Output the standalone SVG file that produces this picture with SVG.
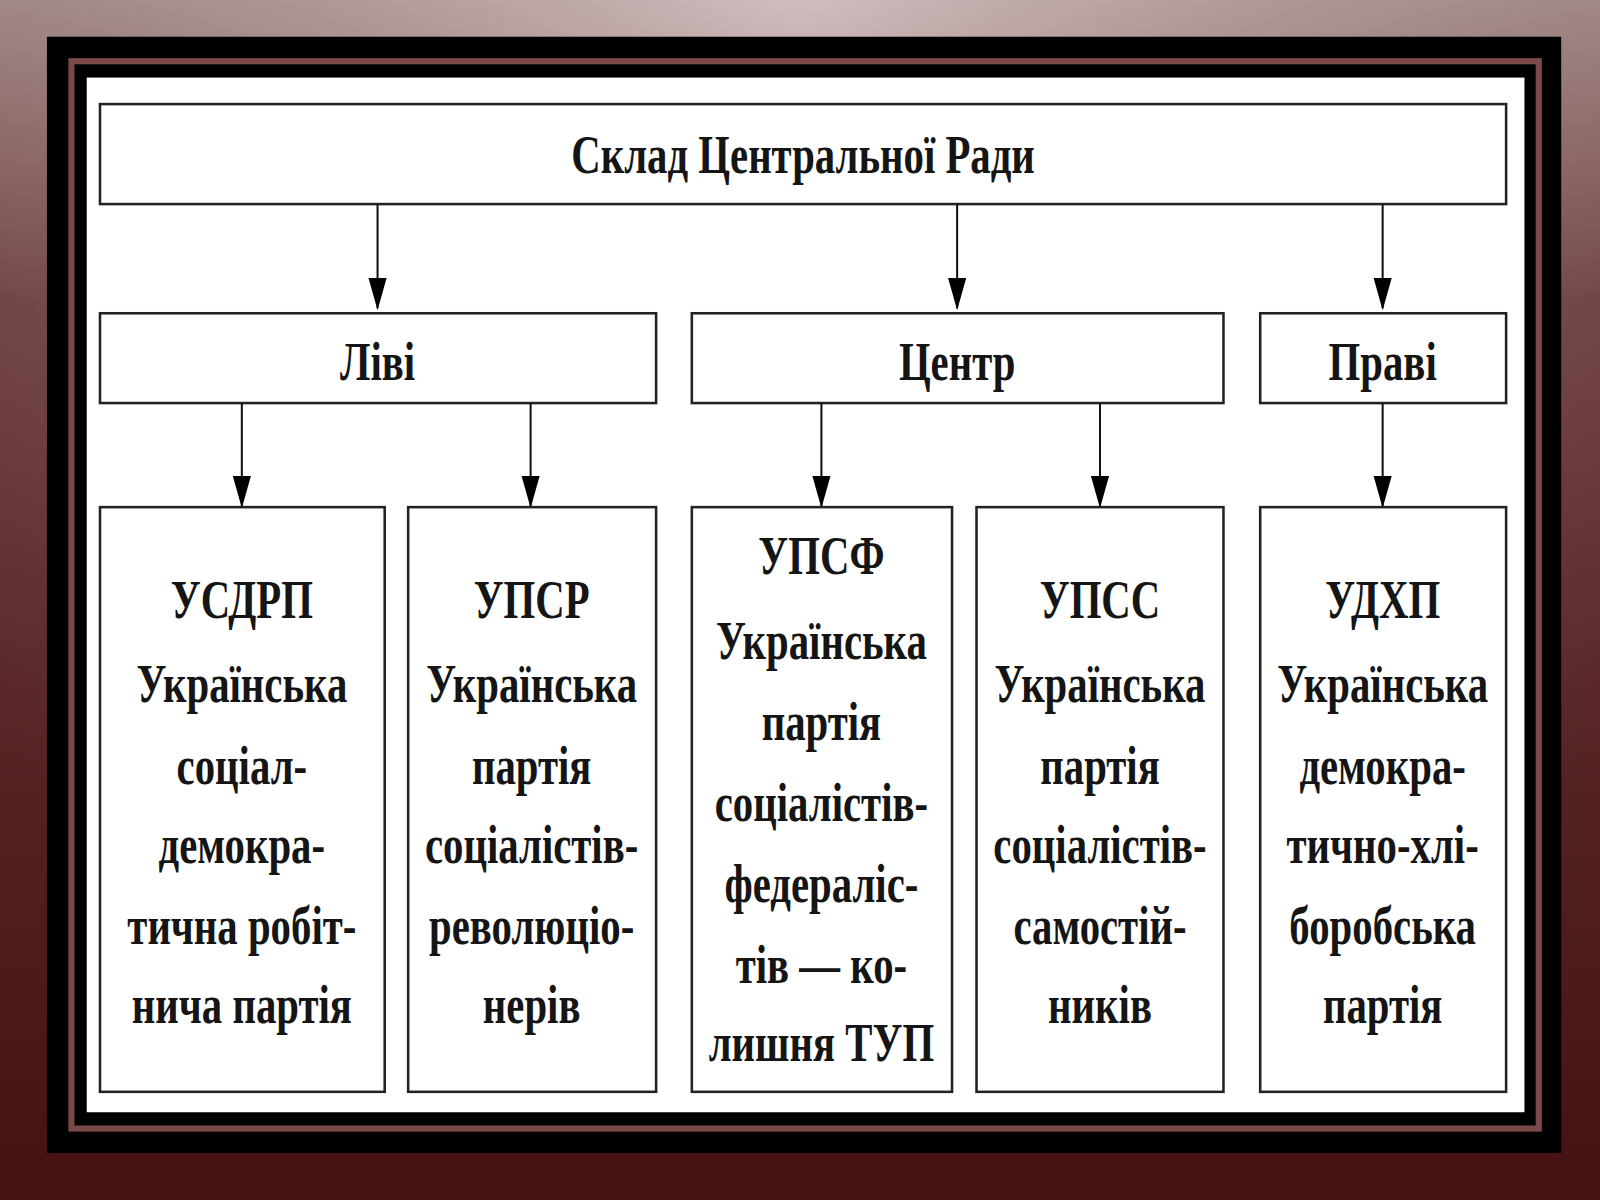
<svg xmlns="http://www.w3.org/2000/svg" width="1600" height="1200" viewBox="0 0 1600 1200">
<defs>
<linearGradient id="bg" x1="0" y1="0" x2="0" y2="1"><stop offset="0" stop-color="#c2aeae"/><stop offset="0.25" stop-color="#7a4a4a"/><stop offset="1" stop-color="#4a1414"/></linearGradient>
<radialGradient id="bg2" cx="0.5" cy="0" r="0.8"><stop offset="0" stop-color="#d8c8c8" stop-opacity="0.6"/><stop offset="1" stop-color="#3a0808" stop-opacity="0.3"/></radialGradient>
<marker id="ar" viewBox="0 0 16 30" refX="16" refY="15" markerWidth="30" markerHeight="16" markerUnits="userSpaceOnUse" orient="auto"><path d="M0,0 L16,15 L0,30 z" transform="translate(16,15) rotate(0) translate(-16,-15)" fill="#000"/></marker>
<marker id="ar2" viewBox="0 0 32 18" refX="30" refY="9" markerWidth="32" markerHeight="18" markerUnits="userSpaceOnUse" orient="auto"><path d="M0,0 L32,9 L0,18 z" fill="#000"/></marker>
<style>
.box{fill:#fff;stroke:#222;stroke-width:2.5}
.t{font-family:"Liberation Serif","DejaVu Serif",serif;font-size:54px;font-weight:bold;fill:#151515;text-anchor:middle}
.c{stroke:#111;stroke-width:2;fill:none}
</style>
</defs>
<rect width="1600" height="1200" fill="url(#bg)"/>
<rect width="1600" height="1200" fill="url(#bg2)"/>
<g transform="scale(1.0204)">
<rect x="46" y="36" width="1484" height="1094" fill="#000"/>
<rect x="70" y="60" width="1438" height="1046" fill="none" stroke="#7a4a4a" stroke-width="6"/>
<rect x="85" y="76" width="1409" height="1014" fill="#fff"/>
<g id="top"><rect class="box" x="98" y="102" width="1378" height="98"/><text class="t" transform="translate(787,170) scale(0.74,1)">Склад Центральної Ради</text></g>
<g id="left"><rect class="box" x="98" y="307" width="545" height="88"/><text class="t" transform="translate(370,372) scale(0.74,1)">Ліві</text></g>
<g id="center"><rect class="box" x="678" y="307" width="521" height="88"/><text class="t" transform="translate(938,372) scale(0.74,1)">Центр</text></g>
<g id="right"><rect class="box" x="1235" y="307" width="241" height="88"/><text class="t" transform="translate(1355,372) scale(0.74,1)">Праві</text></g>
<g id="connectors" class="c" marker-end="url(#ar2)">
<line x1="370" y1="200" x2="370" y2="302"/><line x1="938" y1="200" x2="938" y2="302"/><line x1="1355" y1="200" x2="1355" y2="302"/>
<line x1="237" y1="395" x2="237" y2="496"/><line x1="520" y1="395" x2="520" y2="496"/><line x1="805" y1="395" x2="805" y2="496"/><line x1="1078" y1="395" x2="1078" y2="496"/><line x1="1355" y1="395" x2="1355" y2="496"/>
</g>
<g id="usdrp"><rect class="box" x="98" y="497" width="279" height="573"/>
<g class="t" transform="translate(237,0) scale(0.74,1)"><text y="606">УСДРП</text><text y="688">Українська</text><text y="768">соціал-</text><text y="846">демокра-</text><text y="925">тична робіт-</text><text y="1003">нича партія</text></g></g>
<g id="upsr"><rect class="box" x="400" y="497" width="243" height="573"/>
<g class="t" transform="translate(521,0) scale(0.74,1)"><text y="606">УПСР</text><text y="688">Українська</text><text y="768">партія</text><text y="846">соціалістів-</text><text y="925">революціо-</text><text y="1003">нерів</text></g></g>
<g id="upsf"><rect class="box" x="678" y="497" width="255" height="573"/>
<g class="t" transform="translate(805,0) scale(0.74,1)"><text y="563">УПСФ</text><text y="646">Українська</text><text y="725">партія</text><text y="805">соціалістів-</text><text y="884">федераліс-</text><text y="963">тів — ко-</text><text y="1040">лишня ТУП</text></g></g>
<g id="upss"><rect class="box" x="957" y="497" width="242" height="573"/>
<g class="t" transform="translate(1078,0) scale(0.74,1)"><text y="606">УПСС</text><text y="688">Українська</text><text y="768">партія</text><text y="846">соціалістів-</text><text y="925">самостій-</text><text y="1003">ників</text></g></g>
<g id="udhp"><rect class="box" x="1235" y="497" width="241" height="573"/>
<g class="t" transform="translate(1355,0) scale(0.74,1)"><text y="606">УДХП</text><text y="688">Українська</text><text y="768">демокра-</text><text y="846">тично-хлі-</text><text y="925">боробська</text><text y="1003">партія</text></g></g>
</g>
</svg>
